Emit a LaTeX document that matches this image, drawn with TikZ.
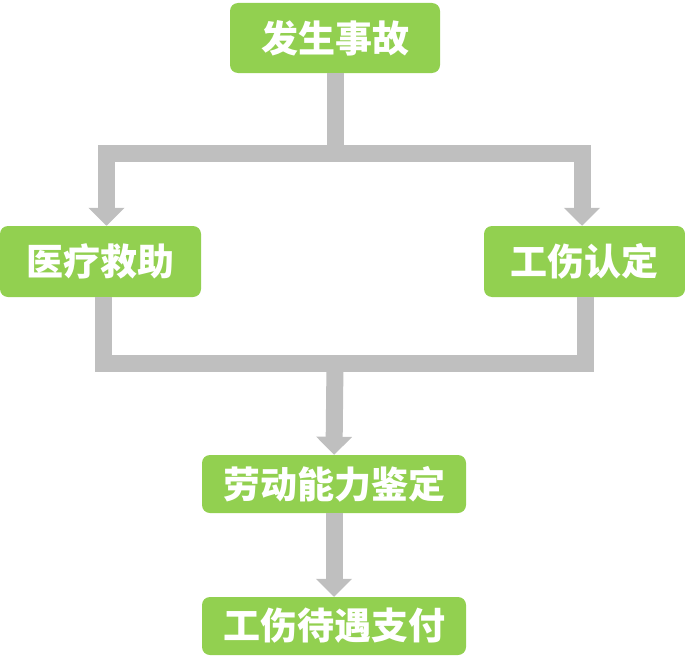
\documentclass[tikz,border=0pt]{standalone}
\usepackage{fontspec}
\usepackage{tikz}
\usetikzlibrary{arrows.meta,positioning,calc}
\newfontfamily\cjk{Noto Sans CJK SC}
\definecolor{boxgreen}{HTML}{92D050}
\definecolor{linegray}{HTML}{BFBFBF}
\tikzset{
    stagebox/.style={rectangle, rounded corners=8pt, fill=boxgreen, text=white, inner sep=0pt,
        font=\cjk\bfseries\fontsize{37}{40}\selectfont},
    flowline/.style={draw=linegray, line width=17pt, line join=miter},
    flowarrow/.style={flowline, -{Triangle[width=35pt,length=18pt]}}
}
\begin{document}
\begin{tikzpicture}[x=1pt, y=-1pt]
    \useasboundingbox (0,0) rectangle (685,669);

    \node (accident) [stagebox, minimum width=210pt, minimum height=70pt] at (335,38) {发生事故};
    \node (rescue) [stagebox, minimum width=201pt, minimum height=71pt] at (100.5,261.5) {医疗救助};
    \node (identify) [stagebox, minimum width=201pt, minimum height=71pt] at (584.5,261.5) {工伤认定};
    \node (appraise) [stagebox, minimum width=264pt, minimum height=58pt] at (334,484) {劳动能力鉴定};
    \node (pay) [stagebox, minimum width=264pt, minimum height=58pt] at (334,626) {工伤待遇支付};

    \coordinate (split) at (335,153);
    \coordinate (join) at (335,363);

    % upper branches
    \draw [flowarrow] (accident.south) |- ([xshift=6pt]rescue.north |- split) -- ([xshift=6pt]rescue.north);
    \draw [flowarrow] (accident.south) |- ([xshift=-2.5pt]identify.north |- split) -- ([xshift=-2.5pt]identify.north);

    % lower merge
    \draw [flowline] ([xshift=2.5pt]rescue.south) |- (join) -| ([xshift=0.5pt]identify.south);
    \draw [flowarrow] (join) -- (appraise.north);
    \draw [flowarrow] (appraise.south) -- (pay.north);
\end{tikzpicture}
\end{document}
